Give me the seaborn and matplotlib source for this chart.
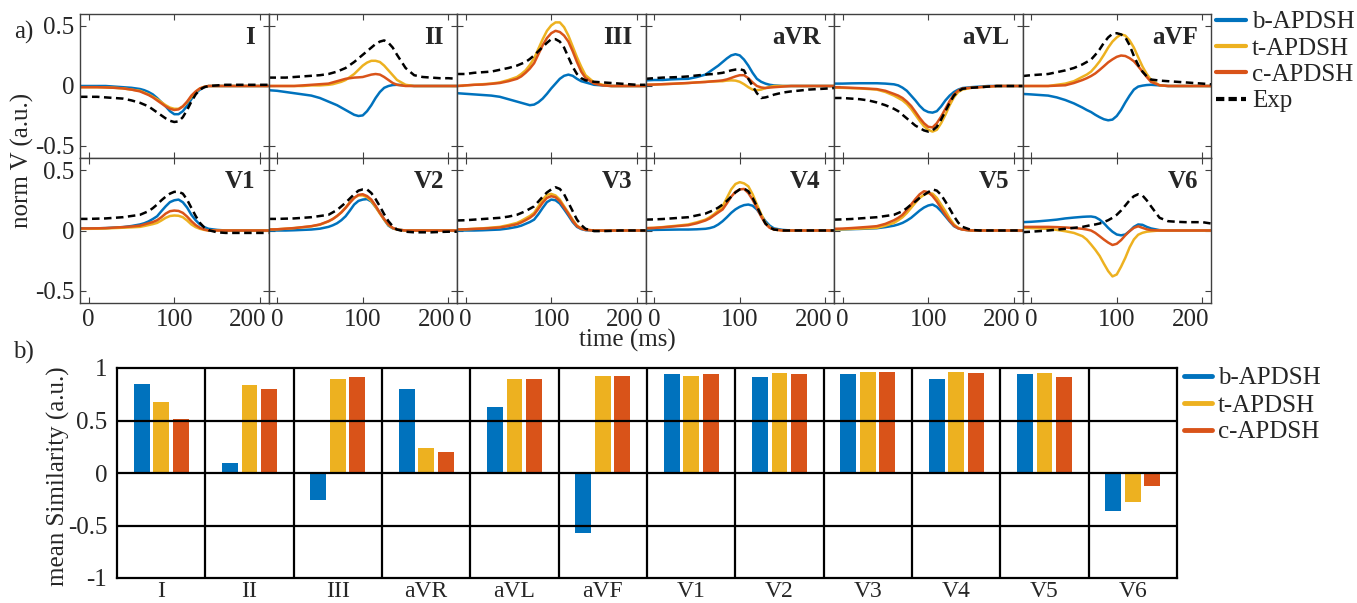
import pandas as pd
import seaborn as sns
import matplotlib.pyplot as plt
import matplotlib.transforms as mtransforms
from matplotlib.lines import Line2D

# time axis (ms) shared by every lead, finer around the waves
t_ms = [-10, 0, 10, 20, 30, 40, 50,
        60, 65, 70, 75, 80, 85, 90, 95, 100, 105, 110, 115, 120, 125, 130, 135, 140,
        150, 160, 170, 180, 190, 200, 210]

leads = ['I', 'II', 'III', 'aVR', 'aVL', 'aVF', 'V1', 'V2', 'V3', 'V4', 'V5', 'V6']
models = ['b-APDSH', 't-APDSH', 'c-APDSH']

# ---- panel a): normalised lead signals (read off the figure) ----
b_I = [0, 0, 0, 0, -0.005, -0.01, -0.015,
       -0.025, -0.035, -0.05, -0.07, -0.10, -0.135, -0.17, -0.21, -0.235, -0.235, -0.21, -0.165, -0.11, -0.06, -0.03, -0.01, 0,
       0, 0, 0, 0, 0, 0, 0]
t_I = [-0.01, -0.01, -0.01, -0.012, -0.015, -0.02, -0.03,
       -0.04, -0.055, -0.07, -0.09, -0.11, -0.135, -0.16, -0.18, -0.19, -0.19, -0.17, -0.135, -0.09, -0.05, -0.02, -0.007, 0,
       0, 0, 0, 0, 0, 0, 0]
c_I = [-0.01, -0.01, -0.01, -0.012, -0.015, -0.02, -0.03,
       -0.045, -0.06, -0.075, -0.095, -0.12, -0.145, -0.17, -0.19, -0.20, -0.195, -0.17, -0.13, -0.08, -0.045, -0.02, -0.007, 0,
       0, 0, 0, 0, 0, 0, 0]
exp_I = [-0.09, -0.09, -0.09, -0.095, -0.10, -0.105, -0.12,
         -0.14, -0.155, -0.17, -0.195, -0.22, -0.245, -0.27, -0.29, -0.30, -0.295, -0.26, -0.20, -0.13, -0.07, -0.03, -0.01, 0.0,
         0.005, 0.01, 0.01, 0.01, 0.01, 0.01, 0.01]

b_II = [-0.035, -0.04, -0.05, -0.06, -0.07, -0.08, -0.10,
        -0.13, -0.145, -0.16, -0.18, -0.20, -0.22, -0.24, -0.25, -0.245, -0.21, -0.16, -0.10, -0.05, -0.015, 0.0, 0.008, 0.01,
        0.005, 0, 0, 0, 0, 0, 0]
t_II = [0, 0, 0, 0, 0, 0.005, 0.005,
        0.01, 0.015, 0.025, 0.035, 0.05, 0.075, 0.10, 0.135, 0.17, 0.195, 0.21, 0.21, 0.20, 0.17, 0.13, 0.09, 0.05,
        0.01, 0, 0, 0, 0, 0, 0]
c_II = [0, 0, 0, 0, 0.005, 0.01, 0.015,
        0.02, 0.03, 0.04, 0.05, 0.06, 0.065, 0.07, 0.072, 0.075, 0.085, 0.095, 0.10, 0.095, 0.075, 0.05, 0.025, 0.01,
        0, 0, 0, 0, 0, 0, 0]
exp_II = [0.07, 0.07, 0.07, 0.075, 0.08, 0.085, 0.09,
          0.10, 0.11, 0.12, 0.135, 0.15, 0.175, 0.20, 0.23, 0.26, 0.29, 0.32, 0.35, 0.37, 0.38, 0.36, 0.32, 0.26,
          0.15, 0.09, 0.075, 0.07, 0.065, 0.065, 0.06]

b_III = [-0.06, -0.065, -0.07, -0.075, -0.08, -0.09, -0.11,
         -0.13, -0.14, -0.15, -0.16, -0.155, -0.135, -0.105, -0.065, -0.02, 0.02, 0.06, 0.085, 0.095, 0.085, 0.06, 0.04, 0.03,
         0.01, 0.005, 0, 0, 0, 0, 0]
t_III = [0, 0.005, 0.01, 0.015, 0.02, 0.03, 0.05,
         0.075, 0.10, 0.13, 0.175, 0.23, 0.31, 0.39, 0.46, 0.505, 0.53, 0.53, 0.49, 0.42, 0.33, 0.24, 0.16, 0.09,
         0.03, 0.01, 0, 0, 0, 0, 0]
c_III = [0, 0.005, 0.01, 0.012, 0.018, 0.025, 0.04,
         0.06, 0.08, 0.11, 0.145, 0.19, 0.265, 0.34, 0.40, 0.44, 0.46, 0.45, 0.42, 0.37, 0.29, 0.20, 0.12, 0.067,
         0.02, 0.005, 0, 0, 0, 0, 0]
exp_III = [0.10, 0.10, 0.11, 0.115, 0.12, 0.135, 0.15,
           0.17, 0.185, 0.20, 0.225, 0.255, 0.29, 0.325, 0.36, 0.39, 0.39, 0.37, 0.32, 0.24, 0.16, 0.10, 0.065, 0.047,
           0.035, 0.03, 0.025, 0.02, 0.015, 0.01, 0.01]

b_aVR = [0.047, 0.05, 0.05, 0.055, 0.058, 0.06, 0.075,
         0.095, 0.12, 0.145, 0.17, 0.20, 0.23, 0.255, 0.265, 0.255, 0.22, 0.17, 0.11, 0.06, 0.035, 0.02, 0.01, 0.005,
         0, 0, 0, 0, 0, 0, 0]
t_aVR = [0.01, 0.012, 0.015, 0.018, 0.02, 0.025, 0.03,
         0.035, 0.037, 0.038, 0.039, 0.04, 0.045, 0.047, 0.045, 0.035, 0.015, -0.01, -0.03, -0.035, -0.03, -0.017, -0.007, 0,
         0, 0, 0, 0, 0, 0, 0]
c_aVR = [0.01, 0.012, 0.015, 0.018, 0.022, 0.025, 0.03,
         0.033, 0.037, 0.04, 0.043, 0.047, 0.055, 0.067, 0.08, 0.09, 0.09, 0.065, 0.03, 0, -0.012, -0.017, -0.013, -0.01,
         -0.005, 0, 0, 0, 0, 0, 0]
exp_aVR = [0.06, 0.065, 0.07, 0.072, 0.075, 0.08, 0.088,
           0.095, 0.098, 0.10, 0.105, 0.11, 0.12, 0.13, 0.137, 0.14, 0.13, 0.06, 0.0, -0.06, -0.10, -0.095, -0.085, -0.072,
           -0.055, -0.045, -0.038, -0.03, -0.026, -0.022, -0.017]

b_aVL = [0.02, 0.02, 0.022, 0.023, 0.023, 0.023, 0.02,
         0.014, 0.005, -0.014, -0.04, -0.08, -0.12, -0.165, -0.2, -0.217, -0.222, -0.21, -0.17, -0.12, -0.08, -0.05, -0.03, -0.017,
         -0.01, -0.005, 0, 0, 0, 0, 0]
t_aVL = [-0.014, -0.015, -0.018, -0.02, -0.025, -0.03, -0.05,
         -0.08, -0.10, -0.12, -0.15, -0.19, -0.24, -0.29, -0.335, -0.365, -0.38, -0.365, -0.31, -0.24, -0.16, -0.094, -0.05, -0.03,
         -0.015, -0.01, -0.005, 0, 0, 0, 0]
c_aVL = [-0.01, -0.012, -0.015, -0.018, -0.022, -0.026, -0.04,
         -0.066, -0.08, -0.10, -0.13, -0.166, -0.215, -0.266, -0.31, -0.34, -0.345, -0.31, -0.255, -0.19, -0.125, -0.07, -0.038, -0.02,
         -0.015, -0.01, -0.005, 0, 0, 0, 0]
exp_aVL = [-0.10, -0.10, -0.105, -0.11, -0.12, -0.137, -0.16,
           -0.19, -0.21, -0.24, -0.27, -0.30, -0.33, -0.35, -0.37, -0.38, -0.37, -0.34, -0.28, -0.21, -0.14, -0.08, -0.045, -0.023,
           -0.015, -0.01, -0.005, 0, 0, 0, 0]

b_aVF = [-0.066, -0.07, -0.075, -0.08, -0.095, -0.117, -0.145,
         -0.18, -0.2, -0.217, -0.24, -0.26, -0.277, -0.286, -0.28, -0.25, -0.2, -0.137, -0.08, -0.03, -0.005, 0.003, 0.008, 0.01,
         0.005, 0, 0, 0, 0, 0, 0]
t_aVF = [0, 0, 0, 0, 0.01, 0.02, 0.04,
         0.077, 0.095, 0.12, 0.16, 0.205, 0.26, 0.32, 0.37, 0.405, 0.43, 0.42, 0.38, 0.32, 0.24, 0.163, 0.10, 0.05,
         0.006, 0, 0, 0, 0, 0, 0]
c_aVF = [0, 0, 0, 0, 0.003, 0.006, 0.025,
         0.05, 0.065, 0.083, 0.105, 0.134, 0.165, 0.197, 0.222, 0.243, 0.254, 0.25, 0.232, 0.206, 0.165, 0.12, 0.075, 0.034,
         0.006, 0, 0, 0, 0, 0, 0]
exp_aVF = [0.083, 0.09, 0.095, 0.10, 0.115, 0.13, 0.15,
           0.18, 0.20, 0.22, 0.26, 0.305, 0.36, 0.405, 0.435, 0.44, 0.43, 0.405, 0.34, 0.25, 0.175, 0.12, 0.08, 0.054,
           0.045, 0.04, 0.035, 0.03, 0.025, 0.02, 0.014]

b_V1 = [0.017, 0.017, 0.018, 0.02, 0.024, 0.028, 0.037,
        0.05, 0.06, 0.075, 0.095, 0.118, 0.16, 0.20, 0.235, 0.25, 0.256, 0.234, 0.19, 0.13, 0.085, 0.05, 0.028, 0.014,
        0.005, 0, 0, 0, 0, 0, 0]
t_V1 = [0.014, 0.014, 0.015, 0.017, 0.02, 0.023, 0.026,
        0.03, 0.037, 0.045, 0.053, 0.063, 0.083, 0.105, 0.12, 0.124, 0.122, 0.11, 0.083, 0.05, 0.028, 0.014, 0.005, 0,
        0, 0, 0, 0, 0, 0, 0]
c_V1 = [0.017, 0.017, 0.018, 0.02, 0.024, 0.028, 0.033,
        0.04, 0.05, 0.06, 0.07, 0.085, 0.11, 0.14, 0.16, 0.165, 0.162, 0.146, 0.115, 0.077, 0.045, 0.022, 0.008, 0,
        0, 0, 0, 0, 0, 0, 0]
exp_V1 = [0.096, 0.096, 0.098, 0.10, 0.105, 0.11, 0.12,
          0.13, 0.145, 0.16, 0.185, 0.215, 0.25, 0.28, 0.305, 0.32, 0.32, 0.305, 0.255, 0.187, 0.12, 0.063, 0.025, 0.003,
          -0.015, -0.02, -0.02, -0.02, -0.02, -0.02, -0.02]

b_V2 = [0, 0, 0, 0.002, 0.005, 0.008, 0.015,
        0.03, 0.043, 0.06, 0.085, 0.118, 0.165, 0.215, 0.245, 0.256, 0.26, 0.24, 0.195, 0.146, 0.09, 0.04, 0.018, 0.008,
        0, 0, 0, 0, 0, 0, 0]
t_V2 = [0.008, 0.01, 0.015, 0.02, 0.027, 0.034, 0.048,
        0.075, 0.095, 0.12, 0.15, 0.19, 0.235, 0.27, 0.29, 0.29, 0.275, 0.245, 0.195, 0.14, 0.09, 0.045, 0.02, 0.007,
        0, 0, 0, 0, 0, 0, 0]
c_V2 = [0.008, 0.01, 0.015, 0.02, 0.028, 0.036, 0.05,
        0.077, 0.095, 0.12, 0.15, 0.187, 0.23, 0.27, 0.295, 0.30, 0.285, 0.256, 0.205, 0.146, 0.095, 0.05, 0.022, 0.008,
        0, 0, 0, 0, 0, 0, 0]
exp_V2 = [0.096, 0.096, 0.098, 0.10, 0.105, 0.11, 0.12,
          0.13, 0.15, 0.17, 0.20, 0.23, 0.265, 0.30, 0.33, 0.34, 0.34, 0.31, 0.26, 0.20, 0.135, 0.077, 0.035, 0.008,
          -0.01, -0.015, -0.015, -0.015, -0.012, -0.01, -0.01]

b_V3 = [0, 0, 0, 0.002, 0.005, 0.008, 0.017,
        0.03, 0.04, 0.055, 0.07, 0.09, 0.135, 0.187, 0.235, 0.256, 0.25, 0.223, 0.175, 0.124, 0.07, 0.03, 0.012, 0.003,
        0, 0, 0, 0, 0, 0, 0]
t_V3 = [0.008, 0.01, 0.014, 0.018, 0.024, 0.03, 0.045,
        0.063, 0.08, 0.10, 0.12, 0.146, 0.2, 0.256, 0.295, 0.303, 0.29, 0.256, 0.2, 0.146, 0.09, 0.04, 0.018, 0.008,
        0, 0, 0, 0, 0, 0, 0]
c_V3 = [0.008, 0.01, 0.013, 0.016, 0.02, 0.025, 0.037,
        0.052, 0.067, 0.085, 0.105, 0.132, 0.18, 0.23, 0.27, 0.284, 0.275, 0.242, 0.19, 0.138, 0.08, 0.036, 0.015, 0.005,
        0, 0, 0, 0, 0, 0, 0]
exp_V3 = [0.083, 0.085, 0.09, 0.095, 0.10, 0.105, 0.115,
          0.13, 0.145, 0.16, 0.18, 0.20, 0.24, 0.28, 0.315, 0.34, 0.358, 0.344, 0.30, 0.23, 0.16, 0.09, 0.045, 0.014,
          -0.005, -0.005, -0.003, 0, 0, 0, 0]

b_V4 = [0.005, 0.005, 0.006, 0.007, 0.008, 0.008, 0.01,
        0.014, 0.02, 0.03, 0.05, 0.077, 0.11, 0.146, 0.175, 0.196, 0.21, 0.215, 0.205, 0.174, 0.125, 0.077, 0.04, 0.017,
        0.005, 0, 0, 0, 0, 0, 0]
t_V4 = [0.019, 0.022, 0.028, 0.035, 0.042, 0.05, 0.068,
        0.09, 0.11, 0.135, 0.165, 0.20, 0.27, 0.34, 0.385, 0.40, 0.39, 0.366, 0.30, 0.215, 0.135, 0.063, 0.025, 0.008,
        0, 0, 0, 0, 0, 0, 0]
c_V4 = [0.019, 0.021, 0.026, 0.032, 0.038, 0.044, 0.06,
        0.083, 0.10, 0.125, 0.15, 0.174, 0.225, 0.28, 0.32, 0.34, 0.344, 0.31, 0.255, 0.187, 0.115, 0.055, 0.022, 0.008,
        0, 0, 0, 0, 0, 0, 0]
exp_V4 = [0.09, 0.092, 0.095, 0.10, 0.105, 0.11, 0.125,
          0.14, 0.155, 0.17, 0.19, 0.215, 0.245, 0.28, 0.315, 0.34, 0.347, 0.325, 0.27, 0.20, 0.125, 0.058, 0.025, 0.008,
          0, 0, 0, 0, 0, 0, 0]

b_V5 = [0.008, 0.009, 0.011, 0.013, 0.016, 0.019, 0.028,
        0.04, 0.05, 0.063, 0.082, 0.105, 0.135, 0.165, 0.19, 0.207, 0.215, 0.196, 0.16, 0.118, 0.075, 0.036, 0.018, 0.008,
        0, 0, 0, 0, 0, 0, 0]
t_V5 = [0.008, 0.01, 0.013, 0.016, 0.019, 0.022, 0.04,
        0.063, 0.085, 0.11, 0.145, 0.187, 0.23, 0.27, 0.295, 0.31, 0.305, 0.27, 0.215, 0.16, 0.10, 0.05, 0.022, 0.008,
        0, 0, 0, 0, 0, 0, 0]
c_V5 = [0.014, 0.016, 0.02, 0.025, 0.03, 0.036, 0.055,
        0.085, 0.105, 0.13, 0.17, 0.215, 0.26, 0.30, 0.325, 0.317, 0.285, 0.24, 0.185, 0.13, 0.08, 0.04, 0.018, 0.008,
        0, 0, 0, 0, 0, 0, 0]
exp_V5 = [0.09, 0.092, 0.095, 0.10, 0.105, 0.11, 0.12,
          0.13, 0.145, 0.16, 0.185, 0.215, 0.24, 0.27, 0.295, 0.317, 0.34, 0.33, 0.295, 0.24, 0.18, 0.118, 0.065, 0.03,
          0.005, 0, 0, 0, 0, 0, 0]

b_V6 = [0.069, 0.072, 0.077, 0.083, 0.09, 0.10, 0.107,
        0.113, 0.115, 0.116, 0.11, 0.09, 0.06, 0.022, -0.01, -0.033, -0.04, -0.033, -0.005, 0.03, 0.05, 0.047, 0.03, 0.017,
        0.003, 0, 0, 0, 0, 0, 0]
t_V6 = [0.022, 0.02, 0.017, 0.014, 0.005, -0.006, -0.02,
        -0.047, -0.075, -0.116, -0.16, -0.21, -0.275, -0.336, -0.38, -0.364, -0.30, -0.226, -0.14, -0.074, -0.035, -0.019, -0.01, -0.006,
        0, 0, 0, 0, 0, 0, 0]
c_V6 = [0.03, 0.03, 0.03, 0.03, 0.028, 0.025, 0.02,
        0.014, 0.008, 0, -0.02, -0.047, -0.075, -0.10, -0.12, -0.11, -0.08, -0.04, -0.005, 0.022, 0.035, 0.022, 0.01, 0.003,
        0, 0, 0, 0, 0, 0, 0]
exp_V6 = [-0.014, -0.01, -0.005, 0, 0.007, 0.014, 0.022,
          0.03, 0.037, 0.045, 0.05, 0.058, 0.07, 0.085, 0.105, 0.13, 0.165, 0.207, 0.25, 0.284, 0.30, 0.29, 0.25, 0.20,
          0.105, 0.077, 0.072, 0.069, 0.069, 0.069, 0.058]

# ---- panel b): mean similarity per lead ----
sim_b = [0.85, 0.095, -0.26, 0.80, 0.625, -0.57, 0.94, 0.91, 0.94, 0.90, 0.94, -0.36]
sim_t = [0.68, 0.835, 0.90, 0.235, 0.90, 0.92, 0.92, 0.95, 0.96, 0.96, 0.95, -0.28]
sim_c = [0.51, 0.80, 0.91, 0.20, 0.895, 0.92, 0.945, 0.945, 0.965, 0.955, 0.915, -0.12]

curves = {
    'I': (b_I, t_I, c_I, exp_I), 'II': (b_II, t_II, c_II, exp_II),
    'III': (b_III, t_III, c_III, exp_III), 'aVR': (b_aVR, t_aVR, c_aVR, exp_aVR),
    'aVL': (b_aVL, t_aVL, c_aVL, exp_aVL), 'aVF': (b_aVF, t_aVF, c_aVF, exp_aVF),
    'V1': (b_V1, t_V1, c_V1, exp_V1), 'V2': (b_V2, t_V2, c_V2, exp_V2),
    'V3': (b_V3, t_V3, c_V3, exp_V3), 'V4': (b_V4, t_V4, c_V4, exp_V4),
    'V5': (b_V5, t_V5, c_V5, exp_V5), 'V6': (b_V6, t_V6, c_V6, exp_V6),
}

colors = ['#0072BD', '#EDB120', '#D95319']
dash = (0, (3.0, 1.8))
FS = 18

sns.set_theme(style='ticks')
plt.rcParams['font.family'] = ['Liberation Serif', 'DejaVu Serif']
plt.rcParams['axes.unicode_minus'] = False

W, H = 1357, 603
fig = plt.figure(figsize=(W / 100, H / 100), dpi=100)


def rect(x0, y0, x1, y1):
    # pixel box (top-left origin) -> figure fraction
    return [x0 / W, 1 - y1 / H, (x1 - x0) / W, (y1 - y0) / H]


col_edges = [80, 268.5, 457, 645.5, 834, 1022.5, 1211]
row_edges = [(14, 158), (158, 303)]
frame_col = '#404040'
shift_200 = mtransforms.ScaledTranslation(-12 / 100, 0, fig.dpi_scale_trans)

for i, lead in enumerate(leads):
    r, c = divmod(i, 6)
    ax = fig.add_axes(rect(col_edges[c], row_edges[r][0], col_edges[c + 1], row_edges[r][1]))
    b, t, cc, ex = curves[lead]
    for vals, col in zip((b, t, cc), colors):
        sns.lineplot(x=t_ms, y=vals, ax=ax, color=col, linewidth=1.8, estimator=None)
    sns.lineplot(x=t_ms, y=ex, ax=ax, color='black', linewidth=1.8, linestyle=dash, estimator=None)
    ax.set_xlim(-10, 210)
    ax.set_ylim(-0.6, 0.6)
    ax.set_xticks([0, 100, 200])
    ax.set_yticks([-0.5, 0, 0.5])
    ax.set_yticklabels(['-0.5', '0', '0.5'])
    ax.set_xlabel('')
    ax.set_ylabel('')
    for sp in ax.spines.values():
        sp.set_color(frame_col)
        sp.set_linewidth(1.0)
    ax.tick_params(direction='in', top=True, right=True, length=4, width=0.8,
                   color=frame_col, labelsize=FS, pad=4,
                   labelleft=(c == 0), labelbottom=(r == 1))
    if r == 1:
        lbl = ax.get_xticklabels()[2]
        lbl.set_transform(lbl.get_transform() + shift_200)
    ax.text(0.93, 0.84, lead, transform=ax.transAxes, ha='right', va='center',
            fontsize=FS, fontweight='bold')

fig.text(14 / W, 1 - 32 / H, 'a)', fontsize=FS, va='center', ha='left')
fig.text(22 / W, 1 - 160 / H, 'norm V (a.u.)', fontsize=FS, rotation=90, va='center', ha='center')
fig.text(627 / W, 1 - 340 / H, 'time (ms)', fontsize=FS, va='center', ha='center')

line_handles = [Line2D([], [], color=col, lw=3) for col in colors]
line_handles.append(Line2D([], [], color='black', lw=3, linestyle=(0, (2.0, 1.0))))
fig.legend(line_handles, models + ['Exp'], loc='upper left', bbox_to_anchor=(1216 / W, 1 - 11 / H),
           frameon=False, fontsize=FS, handlelength=1.2, handletextpad=0.25,
           labelspacing=0.15, borderpad=0, borderaxespad=0)

# ---- bar chart ----
ax2 = fig.add_axes(rect(117, 368, 1177, 578))
df = pd.DataFrame({
    'lead': leads * 3,
    'model': [m for m in models for _ in leads],
    'value': sim_b + sim_t + sim_c,
})
sns.barplot(data=df, x='lead', y='value', hue='model', order=leads, hue_order=models,
            palette=colors, saturation=1, width=0.66, gap=0.18, errorbar=None,
            linewidth=0, legend=False, ax=ax2)
for y in (-0.5, 0, 0.5):
    ax2.axhline(y, color='black', lw=1.6, zorder=3)
for k in range(len(leads) - 1):
    ax2.axvline(k + 0.5, color='black', lw=1.6, zorder=3)
ax2.set_xlim(-0.5, len(leads) - 0.5)
ax2.set_ylim(-1, 1)
ax2.set_yticks([-1, -0.5, 0, 0.5, 1])
ax2.set_yticklabels(['-1', '-0.5', '0', '0.5', '1'])
ax2.set_xlabel('')
ax2.set_ylabel('')
for sp in ax2.spines.values():
    sp.set_visible(True)
    sp.set_color('black')
    sp.set_linewidth(1.6)
    sp.set_zorder(4)
ax2.tick_params(axis='y', length=0, labelsize=FS, pad=7)
ax2.tick_params(axis='x', length=0, labelsize=17, pad=2)

fig.text(13 / W, 1 - 352 / H, 'b)', fontsize=FS, va='center', ha='left')
fig.text(58 / W, 1 - 476 / H, 'mean Similarity (a.u.)', fontsize=FS, rotation=90, va='center', ha='center')

bar_handles = [Line2D([], [], color=col, lw=3.5) for col in colors]
fig.legend(bar_handles, models, loc='upper left', bbox_to_anchor=(1184 / W, 1 - 367 / H),
           frameon=False, fontsize=FS, handlelength=1.1, handletextpad=0.25,
           labelspacing=0.18, borderpad=0, borderaxespad=0)

fig.savefig('out.png', dpi=100)
